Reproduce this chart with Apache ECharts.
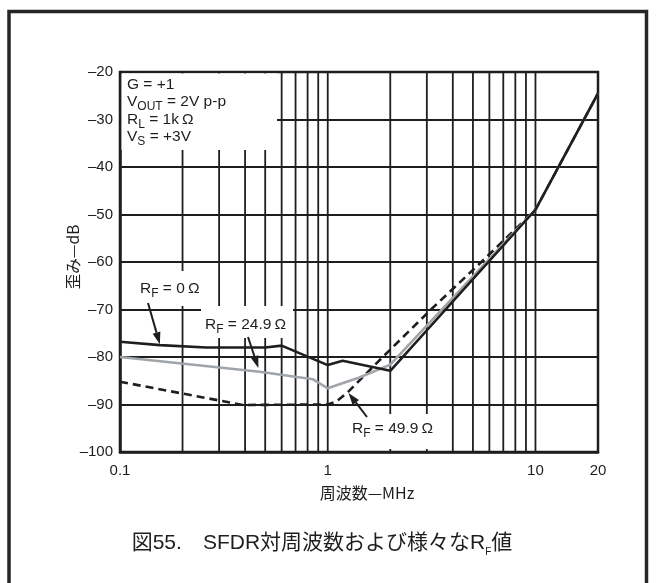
<!DOCTYPE html>
<html>
<head>
<meta charset="utf-8">
<script src="https://cdn.jsdelivr.net/npm/echarts@6/dist/echarts.min.js"></script>
<style>
  html, body { margin: 0; padding: 0; background: #fff; }
  #c { width: 656px; height: 583px; }
</style>
</head>
<body>
<div id="c"></div>
<script>
// SFDR vs frequency for three feedback resistor values (G = +1, 2V p-p, RL = 1kΩ, VS = +3V)
const rf0Freq  = [0.1, 0.156, 0.26, 0.5, 0.6, 1.0, 1.18, 2.0, 10, 20];
const rf0Db    = [-76.8, -77.5, -78.0, -78.0, -77.6, -81.7, -80.8, -82.9, -49, -24.5];

const rf249Freq = [0.1, 0.47, 0.85, 1.0, 1.42, 2.0, 10, 20];
const rf249Db   = [-80.0, -83.1, -84.7, -86.6, -84.3, -81.6, -49, -24.5];

const rf499Freq = [0.1, 0.39, 1.0, 1.1, 1.25, 1.84, 3.14, 5.49, 10, 20];
const rf499Db   = [-85.2, -90.1, -90.0, -89.4, -87.4, -80, -70, -60, -49, -24.5];

// log-decade grid lines inside each decade
const minorFreqs = [0.2, 0.3, 0.4, 0.5, 0.6, 0.7, 0.8, 0.9, 1, 2, 3, 4, 5, 6, 7, 8, 9, 10];

const yMin = -100, yMax = -20, yStep = 10;
const xMin = 0.1, xMax = 20;

const ink = '#1e1e1e';
const latin = "'Liberation Sans', 'Noto Sans CJK JP', sans-serif";
const cjk = "'Noto Sans CJK JP', 'Liberation Sans', sans-serif";

const zip = (xs, ys) => xs.map((x, i) => [x, ys[i]]);

const chart = echarts.init(document.getElementById('c'), null, { renderer: 'canvas' });

chart.setOption({
  animation: false,
  backgroundColor: '#fff',
  grid: { left: 120, top: 72, width: 478, height: 380, show: true, borderColor: ink, borderWidth: 2.5, backgroundColor: 'transparent' },
  xAxis: {
    type: 'log', logBase: 10, min: xMin, max: xMax,
    axisLine: { show: true, lineStyle: { color: ink, width: 2.5 } },
    axisTick: { show: false },
    splitLine: { show: false },
    minorTick: { show: false },
    axisLabel: {
      color: ink, fontSize: 15, fontFamily: latin, margin: 11,
      formatter: v => String(+(+v).toPrecision(3))
    }
  },
  yAxis: {
    type: 'value', min: yMin, max: yMax, interval: yStep,
    axisLine: { show: true, lineStyle: { color: ink, width: 2.5 } },
    axisTick: { show: false },
    splitLine: { show: true, lineStyle: { color: ink, width: 1.8 } },
    axisLabel: {
      color: ink, fontSize: 15, fontFamily: latin, margin: 7,
      formatter: v => String(v).replace('-', '\u2013')
    }
  },
  series: [
    {
      type: 'custom', silent: true, z: 1,
      data: minorFreqs.map(f => [f, yMin]),
      encode: { x: 0, y: 1 },
      renderItem: (params, api) => {
        const x = api.coord([api.value(0), yMin])[0];
        const cs = params.coordSys;
        return {
          type: 'line',
          shape: { x1: x, y1: cs.y, x2: x, y2: cs.y + cs.height },
          style: { stroke: ink, lineWidth: 1.8 }
        };
      }
    },
    {
      name: 'RF = 49.9Ω', type: 'line', z: 3, symbol: 'none', silent: true,
      data: zip(rf499Freq, rf499Db),
      lineStyle: { color: ink, width: 2.6, type: [8, 5] }
    },
    {
      name: 'RF = 24.9Ω', type: 'line', z: 3, symbol: 'none', silent: true,
      data: zip(rf249Freq, rf249Db),
      lineStyle: { color: '#a0a5aa', width: 2.6 }
    },
    {
      name: 'RF = 0Ω', type: 'line', z: 3, symbol: 'none', silent: true,
      data: zip(rf0Freq, rf0Db),
      lineStyle: { color: ink, width: 2.6 }
    }
  ]
});

// ---- annotations ----
const px = (f, v) => chart.convertToPixel({ gridIndex: 0 }, [f, v]);

const subRich = {
  b: { fontSize: 15.5, fontFamily: latin, fill: ink, lineHeight: 22 },
  s: { fontSize: 12, fontFamily: latin, fill: ink, verticalAlign: 'bottom' }
};

function richText(x, y, text) {
  return {
    type: 'text', z: 20, silent: true,
    style: { x, y, text, rich: subRich, align: 'left', verticalAlign: 'middle', fill: ink, font: '15.5px ' + latin }
  };
}

function whiteBox(x, y, w, h) {
  return { type: 'rect', z: 15, silent: true, shape: { x, y, width: w, height: h }, style: { fill: '#fff' } };
}

function arrow(from, tip, back) {
  const dx = tip[0] - from[0], dy = tip[1] - from[1];
  const len = Math.hypot(dx, dy);
  const ux = dx / len, uy = dy / len;
  const tx = tip[0] - ux * (back || 0), ty = tip[1] - uy * (back || 0);
  const hl = 12, hw = 4;
  const bx = tx - ux * hl, by = ty - uy * hl;
  return [
    { type: 'line', z: 21, silent: true, shape: { x1: from[0], y1: from[1], x2: bx, y2: by }, style: { stroke: ink, lineWidth: 2 } },
    { type: 'polygon', z: 21, silent: true,
      shape: { points: [[tx, ty], [bx - uy * hw, by + ux * hw], [bx + uy * hw, by - ux * hw]] },
      style: { fill: ink } }
  ];
}

const tip0 = px(rf0Freq[1], rf0Db[1]);
const tip249 = px(rf249Freq[1], rf249Db[1]);
const tip499 = px(rf499Freq[4], rf499Db[4]);

const elements = [
  // outer frame
  { type: 'rect', z: 30, silent: true, shape: { x: 9, y: 11.5, width: 637.5, height: 640 }, style: { fill: 'none', stroke: '#262626', lineWidth: 3.5 } },

  // condition box
  whiteBox(121.5, 73.5, 155.5, 76.5),
  richText(127, 85, '{b|G = +1}'),
  richText(127, 102, '{b|V}{s|OUT}{b| = 2V p-p}'),
  richText(127, 119.5, '{b|R}{s|L}{b| = 1k\u2009Ω}'),
  richText(127, 137, '{b|V}{s|S}{b| = +3V}'),

  // RF = 0Ω
  whiteBox(133, 271, 80, 35),
  richText(140, 289, '{b|R}{s|F}{b| = 0\u2009Ω}'),
  ...arrow([148, 303], tip0, 1),

  // RF = 24.9Ω
  whiteBox(201, 306, 92, 32),
  richText(205, 325, '{b|R}{s|F}{b| = 24.9\u2009Ω}'),
  ...arrow([248, 337], tip249, 4),

  // RF = 49.9Ω
  whiteBox(347, 414, 94, 35),
  richText(352, 429, '{b|R}{s|F}{b| = 49.9\u2009Ω}'),
  ...arrow([367, 417], tip499, 1),

  // axis titles
  { type: 'text', z: 20, silent: true, rotation: Math.PI / 2, x: 73, y: 257,
    style: { x: 0, y: 0, text: '歪み—dB', align: 'center', verticalAlign: 'middle', fill: ink, font: '15.5px ' + cjk } },
  { type: 'text', z: 20, silent: true,
    style: { x: 367, y: 493, text: '周波数—MHz', align: 'center', verticalAlign: 'middle', fill: ink, font: '16px ' + cjk } },

  // figure caption
  { type: 'text', z: 20, silent: true,
    style: {
      x: 322, y: 543, align: 'center', verticalAlign: 'middle',
      text: '{c|図55.\u3000SFDR対周波数および様々なR}{f|F}{c|値}',
      rich: {
        c: { fontSize: 21, fontFamily: latin, fill: ink, lineHeight: 28 },
        f: { fontSize: 10, fontFamily: latin, fill: ink, verticalAlign: 'bottom' }
      }
    } }
];

chart.setOption({ graphic: { elements } });
</script>
</body>
</html>
